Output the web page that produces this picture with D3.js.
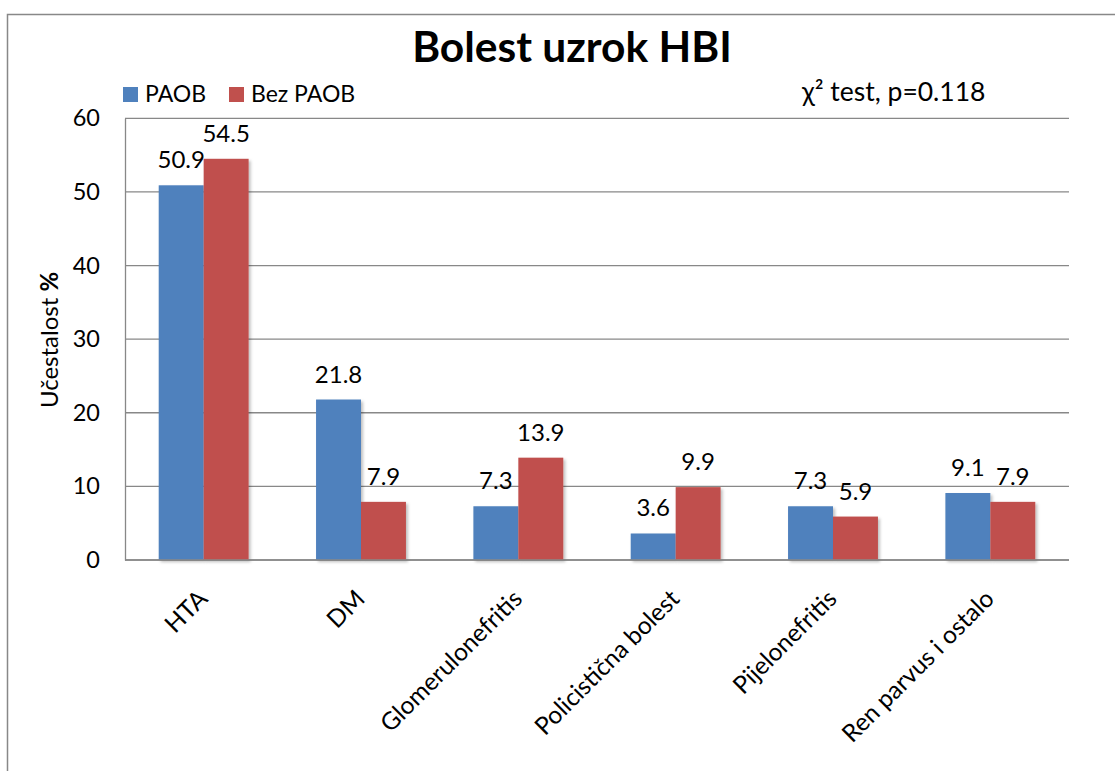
<!DOCTYPE html>
<html><head><meta charset="utf-8">
<script src="https://cdn.jsdelivr.net/npm/d3@7/dist/d3.min.js"></script>
<style>body{margin:0;background:#fff}svg{display:block}text{font-family:Lato,"Open Sans",sans-serif;fill:#000}</style>
</head><body>
<svg id="c" width="1115" height="771"></svg>
<script>
const categories = ["HTA","DM","Glomerulonefritis","Policistična bolest","Pijelonefritis","Ren parvus i ostalo"];
const seriesNames = ["PAOB","Bez PAOB"];
const paob = [50.9,21.8,7.3,3.6,7.3,9.1];
const bezPaob = [54.5,7.9,13.9,9.9,5.9,7.9];
const yTicks = [0,10,20,30,40,50,60];
const colors = ["#4F81BD","#C0504D"];

const svg = d3.select("#c");
const defs = svg.append("defs");
const f = defs.append("filter").attr("id","sh").attr("x","-20%").attr("y","-20%").attr("width","150%").attr("height","150%");
f.append("feDropShadow").attr("dx",2).attr("dy",2).attr("stdDeviation",1.5).attr("flood-color","#000").attr("flood-opacity",0.25);

// outer frame
svg.append("rect").attr("x",7.5).attr("y",14.5).attr("width",1200).attr("height",900)
  .attr("fill","none").attr("stroke","#888").attr("stroke-width",1.5);

const L=125,R=1069,T=118.3,B=560;
const x = d3.scaleBand().domain(categories).range([L,R]).paddingInner(0.4286).paddingOuter(0.2143);
const xs = d3.scaleBand().domain(seriesNames).range([0,x.bandwidth()]);
const y = d3.scaleLinear().domain([0,60]).range([B,T]);

// gridlines
svg.append("g").selectAll("line").data(yTicks).join("line")
  .attr("x1",L).attr("x2",R).attr("y1",d=>y(d)).attr("y2",d=>y(d))
  .attr("stroke","#888").attr("stroke-width",1.3);

// y axis
const ya = svg.append("g").attr("transform",`translate(${L},0)`)
  .call(d3.axisLeft(y).tickValues(yTicks).tickSize(0).tickPadding(25));
ya.select(".domain").attr("stroke","#888").attr("stroke-width",1.3);
ya.selectAll("text").style("font-family","Lato").style("font-size","23.5px").attr("fill","#000");

// bars
const data = categories.map((c,i)=>({c, vals:[paob[i],bezPaob[i]]}));
const groups = svg.append("g").selectAll("g").data(data).join("g")
  .attr("transform",d=>`translate(${x(d.c)},0)`);
groups.selectAll("rect").data(d=>d.vals.map((v,j)=>({v,s:seriesNames[j],j}))).join("rect")
  .attr("x",d=>xs(d.s)).attr("width",xs.bandwidth())
  .attr("y",d=>y(d.v)).attr("height",d=>B-y(d.v))
  .attr("fill",d=>colors[d.j]).attr("filter","url(#sh)");
groups.selectAll("text").data(d=>d.vals.map((v,j)=>({v,s:seriesNames[j],j}))).join("text")
  .attr("x",d=>xs(d.s)+xs.bandwidth()/2).attr("y",d=>y(d.v)-17)
  .attr("text-anchor","middle").style("font-size","24px")
  .text(d=>d.v.toFixed(1));

// x axis
svg.append("line").attr("x1",L).attr("x2",R).attr("y1",B).attr("y2",B).attr("stroke","#888").attr("stroke-width",1.3);
svg.append("g").selectAll("text").data(categories).join("text")
  .attr("transform",d=>`translate(${x(d)+x.bandwidth()/2-7},588) rotate(-45)`)
  .attr("text-anchor","end").attr("dy","0.71em").style("font-size","24.5px")
  .text(d=>d);

// title
svg.append("text").attr("x",572).attr("y",62).attr("text-anchor","middle")
  .style("font-size","42.5px").style("font-weight","bold").text("Bolest uzrok HBI");

// legend
const lg = svg.append("g");
const lx=[123,229];
seriesNames.forEach((s,i)=>{
  lg.append("rect").attr("x",lx[i]).attr("y",87).attr("width",15).attr("height",15).attr("fill",colors[i]);
  lg.append("text").attr("x",lx[i]+22).attr("y",102).style("font-size","23px").text(s);
});

// chi text
const ct = svg.append("text").attr("x",802).attr("y",101).style("font-size","26.5px");
ct.append("tspan").text("χ");
ct.append("tspan").text("² test, p=0.118");

// y axis title
const yt = svg.append("text").attr("transform","translate(58,340) rotate(-90)").attr("text-anchor","middle").style("font-size","24px");
yt.append("tspan").text("Učestalost ");
yt.append("tspan").style("font-weight","bold").text("%");
</script>
</body></html>
